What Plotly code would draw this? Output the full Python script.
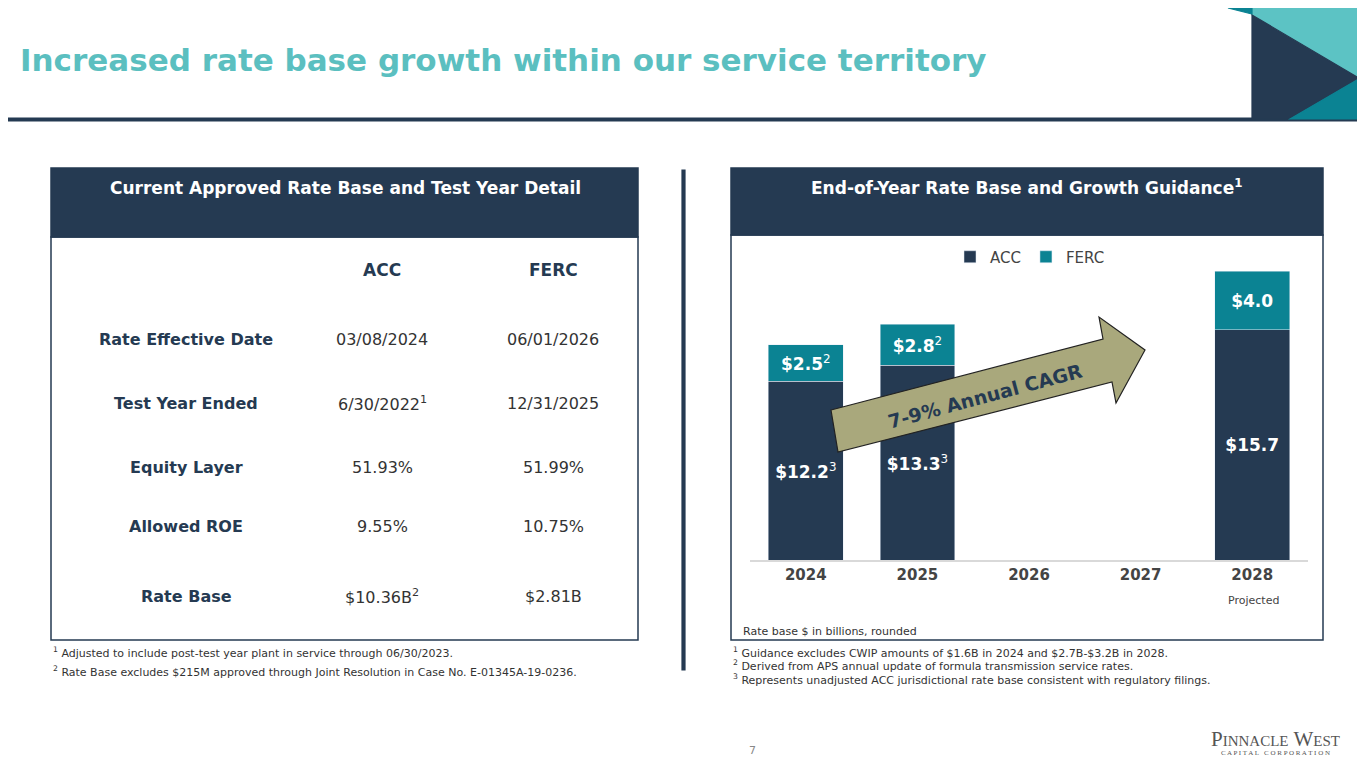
import plotly.graph_objects as go

# ---- data ----
years = ["2024", "2025", "2026", "2027", "2028"]
acc_values = [12.2, 13.3, None, None, 15.7]
ferc_values = [2.5, 2.8, None, None, 4.0]
acc_labels = ["<b>$12.2</b><sup>3</sup>", "<b>$13.3</b><sup>3</sup>", "", "", "<b>$15.7</b>"]
ferc_labels = ["<b>$2.5</b><sup>2</sup>", "<b>$2.8</b><sup>2</sup>", "", "", "<b>$4.0</b>"]

table_rows = ["Rate Effective Date", "Test Year Ended", "Equity Layer", "Allowed ROE", "Rate Base"]
table_acc = ["03/08/2024", "6/30/2022<sup>1</sup>", "51.93%", "9.55%", "$10.36B<sup>2</sup>"]
table_ferc = ["06/01/2026", "12/31/2025", "51.99%", "10.75%", "$2.81B"]

NAVY = "#253a52"
TEAL = "#0b8393"
LIGHT_TEAL = "#5cc3c4"
# the page has an 8px body margin, so draw on a slightly smaller canvas
OFF = 8
W, H = 1365 - 2 * OFF, 768 - 2 * OFF
FONT = "DejaVu Sans"


def px(x, y):
    return (x - OFF) / W, 1 - (y - OFF) / H


def path(points):
    s = ""
    for i, (x, y) in enumerate(points):
        a, b = px(x, y)
        s += ("M" if i == 0 else "L") + f"{a:.5f},{b:.5f} "
    return s + "Z"


fig = go.Figure()
fig.add_trace(go.Bar(x=years, y=acc_values, name="ACC", marker_color=NAVY, width=0.67,
                     text=acc_labels, textposition="inside", insidetextanchor="middle",
                     textfont=dict(color="white", size=17, family=FONT), textangle=0,
                     constraintext="none"))
fig.add_trace(go.Bar(x=years, y=ferc_values, name="FERC", marker_color=TEAL, width=0.67,
                     text=ferc_labels, textposition="inside", insidetextanchor="middle",
                     textfont=dict(color="white", size=17, family=FONT), textangle=0,
                     constraintext="none"))

shapes = []
ann = []


def rect(x0, y0, x1, y1, fill=None, line=None, lw=1.5):
    a0, b0 = px(x0, y0)
    a1, b1 = px(x1, y1)
    shapes.append(dict(type="rect", xref="paper", yref="paper", x0=a0, y0=b0, x1=a1, y1=b1,
                       fillcolor=fill or "rgba(0,0,0,0)", line=dict(color=line or "rgba(0,0,0,0)", width=lw),
                       layer="below"))


def poly(points, fill, line=None):
    shapes.append(dict(type="path", xref="paper", yref="paper", path=path(points), fillcolor=fill,
                       line=dict(color=line or fill, width=1.2)))


def text(x, y, s, size=13, color="#333", bold=False, anchor="center", angle=0, family=FONT):
    a, b = px(x, y)
    ann.append(dict(xref="paper", yref="paper", x=a, y=b, text=f"<b>{s}</b>" if bold else s,
                    showarrow=False, xanchor=anchor, yanchor="middle", textangle=angle,
                    font=dict(size=size, color=color, family=family)))


# title bar and corner art
poly([(OFF, 118), (1365 - OFF, 118), (1365 - OFF, 121), (OFF, 121)], NAVY)
poly([(1252, OFF), (1357, OFF), (1357, 77), (1252, 15)], LIGHT_TEAL)
poly([(1228, OFF), (1252, OFF), (1252, 14)], TEAL)
poly([(1252, 15), (1357, 77), (1357, 80), (1290, 119), (1252, 119)], NAVY)
poly([(1290, 119), (1357, 80), (1357, 119)], TEAL)
text(18, 60, "Increased rate base growth within our service territory", size=31, color="#5bbfc0", bold=True, anchor="left")

# panels
rect(51, 168, 638, 237, fill=NAVY, line=NAVY)
rect(51, 237, 638, 640, line=NAVY)
rect(731, 168, 1323, 235, fill=NAVY, line=NAVY)
rect(731, 235, 1323, 640, line=NAVY)
poly([(682, 170), (685, 170), (685, 670), (682, 670)], NAVY)
text(345, 188, "Current Approved Rate Base and Test Year Detail", size=17, color="white", bold=True)
text(1027, 187, "End-of-Year Rate Base and Growth Guidance<sup>1</sup>", size=17, color="white", bold=True)

# table
text(382, 270, "ACC", size=17, color=NAVY, bold=True)
text(553, 270, "FERC", size=17, color=NAVY, bold=True)
row_y = [339, 404, 467, 526, 596]
for y, r, a, f in zip(row_y, table_rows, table_acc, table_ferc):
    text(186, y, r, size=16, color=NAVY, bold=True)
    text(382, y, a, size=16, color="#333")
    text(553, y, f, size=16, color="#333")

# footnotes
text(51, 652, "<sup>1</sup> Adjusted to include post-test year plant in service through 06/30/2023.", size=11, anchor="left")
text(51, 671, "<sup>2</sup> Rate Base excludes $215M approved through Joint Resolution in Case No. E-01345A-19-0236.", size=11, anchor="left")
text(731, 652, "<sup>1</sup> Guidance excludes CWIP amounts of $1.6B in 2024 and $2.7B-$3.2B in 2028.", size=11, anchor="left")
text(731, 665, "<sup>2</sup> Derived from APS annual update of formula transmission service rates.", size=11, anchor="left")
text(731, 679, "<sup>3</sup> Represents unadjusted ACC jurisdictional rate base consistent with regulatory filings.", size=11, anchor="left")
text(741, 631, "Rate base $ in billions, rounded", size=11, anchor="left")
text(1253, 600, "Projected", size=11, color="#444")
text(752, 750, "7", size=11, color="#888")

# arrow
poly([(831, 410), (1103, 339), (1099, 317), (1145, 350), (1116, 403), (1112, 382), (838, 452)],
     "#a9a87c", line="#222")
text(985, 396, "7-9% Annual CAGR", size=19, color=NAVY, bold=True, angle=-15)

# logo
text(1275, 739, "P<span style='font-size:15px'>INNACLE</span> W<span style='font-size:15px'>EST</span>",
     size=21, color="#555", family="Liberation Serif")
text(1275, 753, "C A P I T A L   C O R P O R A T I O N", size=7, color="#555", family="Liberation Serif")

fig.update_layout(
    width=W, height=H, margin=dict(l=0, r=0, t=0, b=0),
    paper_bgcolor="white", plot_bgcolor="white",
    barmode="stack", showlegend=True, shapes=shapes, annotations=ann,
    legend=dict(orientation="h", x=px(1030, 0)[0], y=px(0, 257)[1], xanchor="center", yanchor="middle",
                font=dict(size=15, color="#444", family=FONT), traceorder="normal", itemwidth=30),
    xaxis=dict(domain=[px(750, 0)[0], px(1308, 0)[0]], type="category", showgrid=False, showline=True,
               linecolor="#d9d9d9", linewidth=1.5, ticks="",
               tickfont=dict(size=15, color="#444", family=FONT), tickprefix="<b>", ticksuffix="</b>"),
    yaxis=dict(domain=[px(0, 560)[1], px(0, 250)[1]], range=[0, 21.16], visible=False),
    font=dict(family=FONT),
)

fig.write_html("out.html")
